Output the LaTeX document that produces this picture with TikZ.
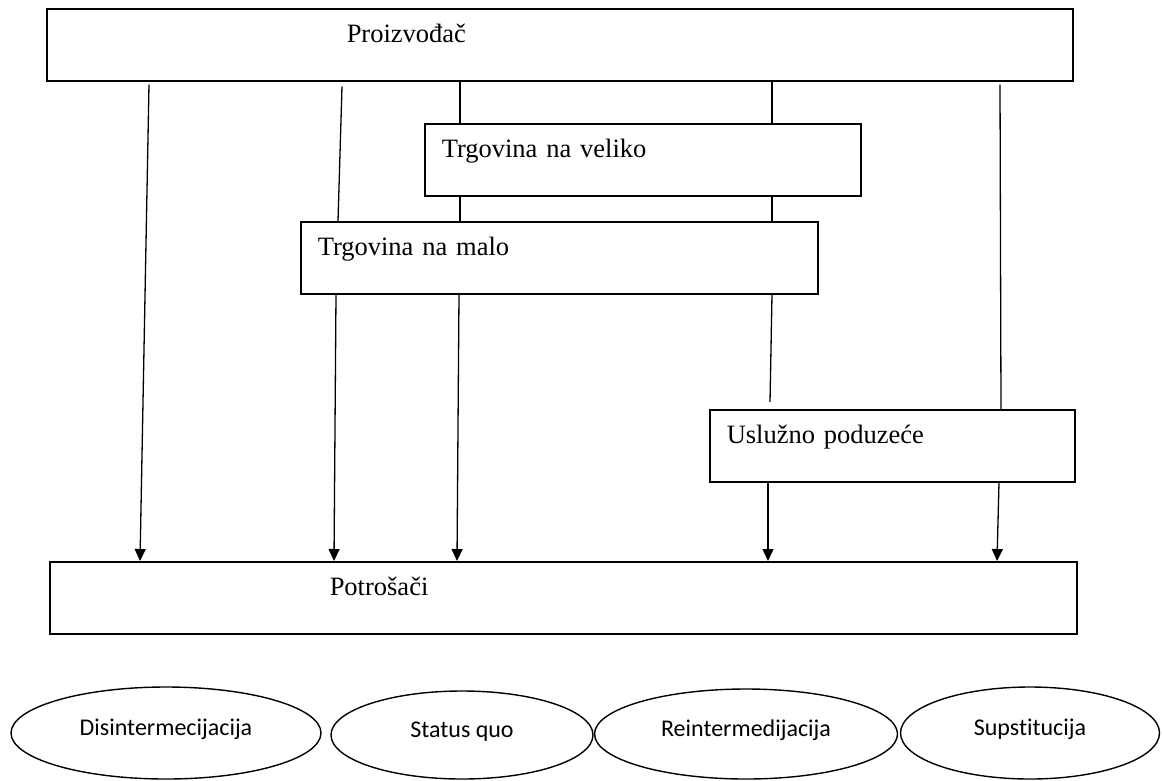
\documentclass[tikz,border=0pt]{standalone}
\usepackage{fontspec}
\setmainfont{Liberation Serif}
\newfontfamily\calfont[Ligatures=NoCommon]{Carlito}
\usetikzlibrary{arrows.meta,shapes.geometric}

\begin{document}
\begin{tikzpicture}[x=1pt,y=-1pt]
    \tikzset{box/.style={draw, line width=1.5pt, anchor=north west, align=left,
            inner ysep=12pt, text height=22pt, text depth=26pt,
            font=\fontsize{26.5}{30}\selectfont},
        oval/.style={draw, ellipse, line width=1.4pt, inner sep=0pt,
            text height=15pt, text depth=11pt, font=\calfont\fontsize{24}{28}\selectfont},
        link/.style={line width=1.3pt},
        arr/.style={link, -{Triangle[length=12pt,width=11pt]}}}
    \useasboundingbox (0,0) rectangle (1162,780);
    %Kutije
    \node[box, inner xsep=300pt, text width=426pt] (prod) at (46,8)   {Proizvođač};
    \node[box, inner xsep=17pt,  text width=402pt] (vel)  at (424,123) {Trgovina na veliko};
    \node[box, inner xsep=17pt,  text width=483pt] (malo) at (300,221) {Trgovina na malo};
    \node[box, inner xsep=17pt,  text width=331pt] (usl)  at (709,409) {Uslužno poduzeće};
    \node[box, inner xsep=280pt, text width=467pt] (cons) at (49,561)  {Potrošači};

    %Disintermedijacija
    \draw[arr] ([xshift=103pt,yshift=-3pt]prod.south west) -- ([xshift=91pt]cons.north west);
    %Status quo
    \draw[link] ([xshift=296pt,yshift=-5pt]prod.south west) -- ([xshift=38pt]malo.north west);
    \draw[arr] ([xshift=36pt]malo.south west) -- ([xshift=285pt]cons.north west);
    \draw[link] ([xshift=414pt]prod.south west) -- ([xshift=36pt]vel.north west);
    \draw[link] ([xshift=36pt]vel.south west) -- ([xshift=160pt]malo.north west);
    \draw[arr] ([xshift=159pt]malo.south west) -- ([xshift=408pt]cons.north west);
    %Reintermedijacija
    \draw[link] ([xshift=726pt]prod.south west) -- ([xshift=348pt]vel.north west);
    \draw[link] ([xshift=348pt]vel.south west) -- ([xshift=472pt]malo.north west);
    \draw[link] ([xshift=472pt]malo.south west) -- ([xshift=61pt,yshift=7pt]usl.north west);
    \draw[arr] ([xshift=59pt]usl.south west) -- ([xshift=719pt]cons.north west);
    %Supstitucija
    \draw[link] ([xshift=954pt,yshift=-3pt]prod.south west) -- ([xshift=292pt]usl.north west);
    \draw[arr] ([xshift=290pt]usl.south west) -- ([xshift=948pt]cons.north west);

    %Elipse
    \node[oval, minimum width=310pt, minimum height=92pt] (disint) at (166,733)  {Disintermecijacija};
    \node[oval, minimum width=262pt, minimum height=88pt] (status) at (462,735)  {Status quo};
    \node[oval, minimum width=303pt, minimum height=90pt] (reint)  at (746,734)  {Reintermedijacija};
    \node[oval, minimum width=259pt, minimum height=92pt] (supst)  at (1030,733) {Supstitucija};
\end{tikzpicture}
\end{document}
